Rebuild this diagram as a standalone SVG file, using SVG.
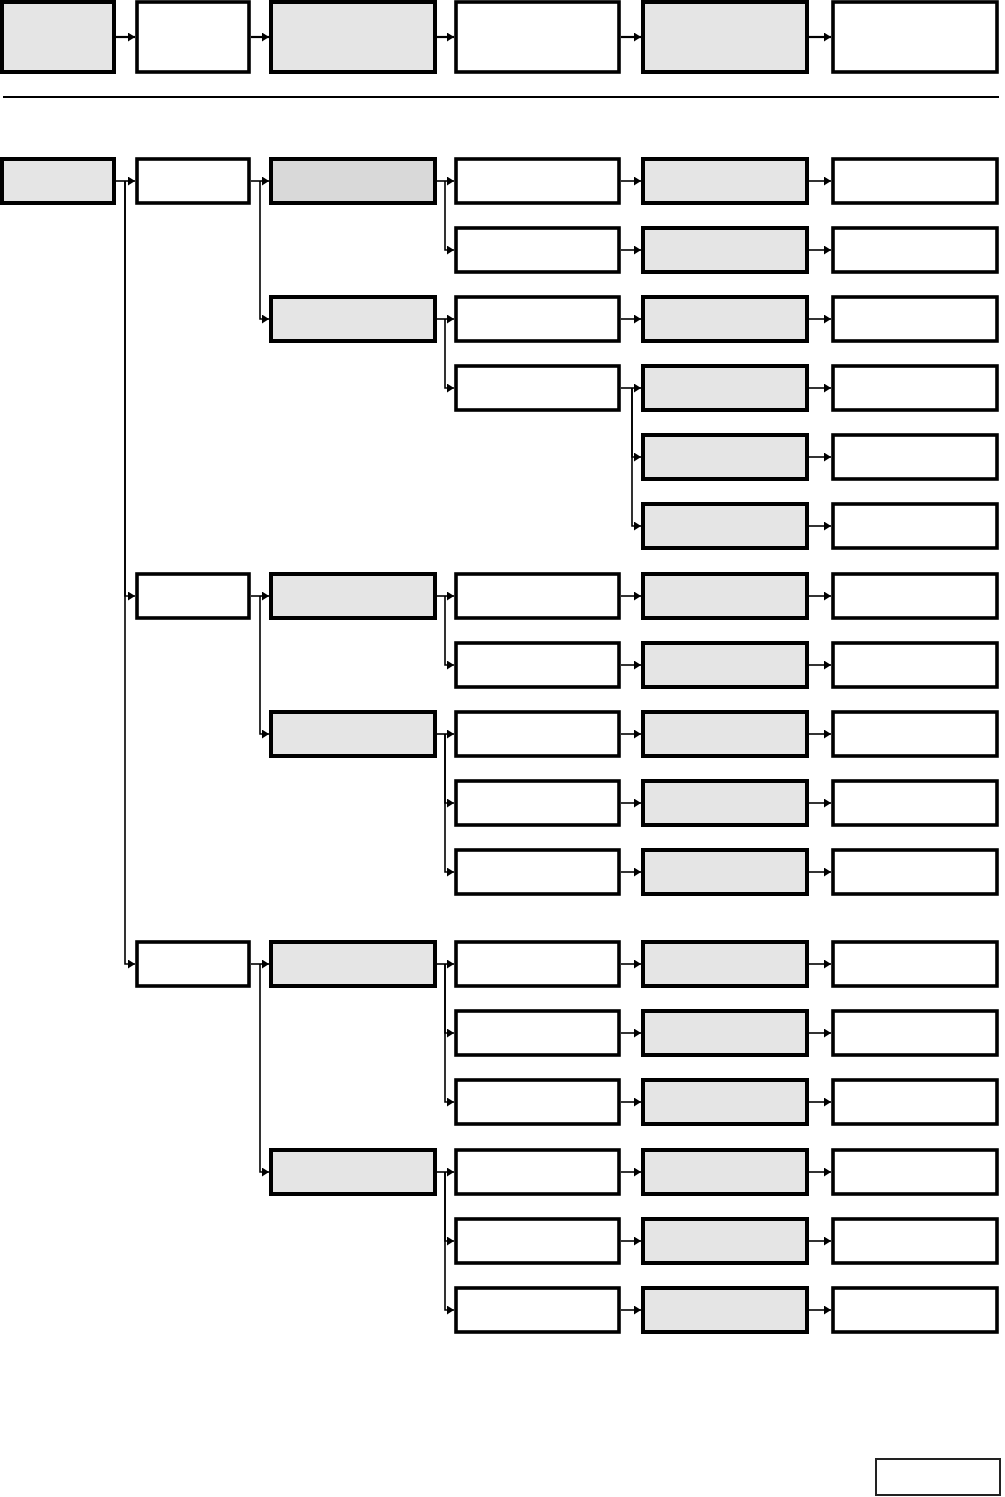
<svg xmlns="http://www.w3.org/2000/svg" width="1005" height="1497" viewBox="0 0 1005 1497">
<style>
.g{fill:#e5e5e5;stroke:#000;stroke-width:4}
.d{fill:#d9d9d9;stroke:#000;stroke-width:4}
.w{fill:#fff;stroke:#000;stroke-width:3.6}
.c{fill:none;stroke:#000;stroke-width:1.6;marker-end:url(#ah)}
.ct{fill:none;stroke:#000;stroke-width:2.2;marker-end:url(#ah)}
</style>
<defs>
<marker id="ah" markerUnits="userSpaceOnUse" markerWidth="7" markerHeight="9" refX="7" refY="4.5" orient="auto">
<path d="M0,0 L7,4.5 L0,9 z" fill="#000"/>
</marker>
</defs>
<rect width="1005" height="1497" fill="#fff"/>
<g id="top-row">
<rect id="t1" class="g" x="2" y="2" width="112" height="70"/>
<rect id="t2" class="w" x="137" y="2" width="112" height="70"/>
<rect id="t3" class="g" x="271" y="2" width="164" height="70"/>
<rect id="t4" class="w" x="456" y="2" width="163" height="70"/>
<rect id="t5" class="g" x="643" y="2" width="164" height="70"/>
<rect id="t6" class="w" x="833" y="2" width="164" height="70"/>
</g>
<line x1="3" y1="97" x2="999" y2="97" stroke="#000" stroke-width="2.2"/>
<g id="nodes">
<rect id="n1-1" class="g" x="2" y="159" width="112" height="44"/>
<rect id="n2-1" class="w" x="137" y="159" width="112" height="44"/>
<rect id="n2-7" class="w" x="137" y="574" width="112" height="44"/>
<rect id="n2-12" class="w" x="137" y="942" width="112" height="44"/>
<rect id="n3-1" class="d" x="271" y="159" width="164" height="44"/>
<rect id="n3-3" class="g" x="271" y="297" width="164" height="44"/>
<rect id="n3-7" class="g" x="271" y="574" width="164" height="44"/>
<rect id="n3-9" class="g" x="271" y="712" width="164" height="44"/>
<rect id="n3-12" class="g" x="271" y="942" width="164" height="44"/>
<rect id="n3-15" class="g" x="271" y="1150" width="164" height="44"/>
<g id="col4">
<rect class="w" x="456" y="159" width="163" height="44"/>
<rect class="w" x="456" y="228" width="163" height="44"/>
<rect class="w" x="456" y="297" width="163" height="44"/>
<rect class="w" x="456" y="366" width="163" height="44"/>
<rect class="w" x="456" y="574" width="163" height="44"/>
<rect class="w" x="456" y="643" width="163" height="44"/>
<rect class="w" x="456" y="712" width="163" height="44"/>
<rect class="w" x="456" y="781" width="163" height="44"/>
<rect class="w" x="456" y="850" width="163" height="44"/>
<rect class="w" x="456" y="942" width="163" height="44"/>
<rect class="w" x="456" y="1011" width="163" height="44"/>
<rect class="w" x="456" y="1080" width="163" height="44"/>
<rect class="w" x="456" y="1150" width="163" height="44"/>
<rect class="w" x="456" y="1219" width="163" height="44"/>
<rect class="w" x="456" y="1288" width="163" height="44"/>
</g>
<g id="col5">
<rect class="g" x="643" y="159" width="164" height="44"/>
<rect class="g" x="643" y="228" width="164" height="44"/>
<rect class="g" x="643" y="297" width="164" height="44"/>
<rect class="g" x="643" y="366" width="164" height="44"/>
<rect class="g" x="643" y="435" width="164" height="44"/>
<rect class="g" x="643" y="504" width="164" height="44"/>
<rect class="g" x="643" y="574" width="164" height="44"/>
<rect class="g" x="643" y="643" width="164" height="44"/>
<rect class="g" x="643" y="712" width="164" height="44"/>
<rect class="g" x="643" y="781" width="164" height="44"/>
<rect class="g" x="643" y="850" width="164" height="44"/>
<rect class="g" x="643" y="942" width="164" height="44"/>
<rect class="g" x="643" y="1011" width="164" height="44"/>
<rect class="g" x="643" y="1080" width="164" height="44"/>
<rect class="g" x="643" y="1150" width="164" height="44"/>
<rect class="g" x="643" y="1219" width="164" height="44"/>
<rect class="g" x="643" y="1288" width="164" height="44"/>
</g>
<g id="col6">
<rect class="w" x="833" y="159" width="164" height="44"/>
<rect class="w" x="833" y="228" width="164" height="44"/>
<rect class="w" x="833" y="297" width="164" height="44"/>
<rect class="w" x="833" y="366" width="164" height="44"/>
<rect class="w" x="833" y="435" width="164" height="44"/>
<rect class="w" x="833" y="504" width="164" height="44"/>
<rect class="w" x="833" y="574" width="164" height="44"/>
<rect class="w" x="833" y="643" width="164" height="44"/>
<rect class="w" x="833" y="712" width="164" height="44"/>
<rect class="w" x="833" y="781" width="164" height="44"/>
<rect class="w" x="833" y="850" width="164" height="44"/>
<rect class="w" x="833" y="942" width="164" height="44"/>
<rect class="w" x="833" y="1011" width="164" height="44"/>
<rect class="w" x="833" y="1080" width="164" height="44"/>
<rect class="w" x="833" y="1150" width="164" height="44"/>
<rect class="w" x="833" y="1219" width="164" height="44"/>
<rect class="w" x="833" y="1288" width="164" height="44"/>
</g>
<rect id="corner-box" x="876" y="1459" width="124" height="36" fill="#fff" stroke="#222" stroke-width="2"/>
</g>
<g id="connectors">
<path class="ct" d="M116,37 H135"/>
<path class="ct" d="M251,37 H269"/>
<path class="ct" d="M437,37 H454"/>
<path class="ct" d="M621,37 H641"/>
<path class="ct" d="M809,37 H831"/>
<path class="c" d="M116,181 H135"/>
<path class="c" d="M125,181 V596 H135"/>
<path class="c" d="M125,181 V964 H135"/>
<path class="c" d="M251,181 H269"/>
<path class="c" d="M260,181 V319 H269"/>
<path class="c" d="M251,596 H269"/>
<path class="c" d="M260,596 V734 H269"/>
<path class="c" d="M251,964 H269"/>
<path class="c" d="M260,964 V1172 H269"/>
<path class="c" d="M437,181 H454"/>
<path class="c" d="M445,181 V250 H454"/>
<path class="c" d="M437,319 H454"/>
<path class="c" d="M445,319 V388 H454"/>
<path class="c" d="M437,596 H454"/>
<path class="c" d="M445,596 V665 H454"/>
<path class="c" d="M437,734 H454"/>
<path class="c" d="M445,734 V803 H454"/>
<path class="c" d="M445,734 V872 H454"/>
<path class="c" d="M437,964 H454"/>
<path class="c" d="M445,964 V1033 H454"/>
<path class="c" d="M445,964 V1102 H454"/>
<path class="c" d="M437,1172 H454"/>
<path class="c" d="M445,1172 V1241 H454"/>
<path class="c" d="M445,1172 V1310 H454"/>
<path class="c" d="M621,181 H641"/>
<path class="c" d="M621,250 H641"/>
<path class="c" d="M621,319 H641"/>
<path class="c" d="M621,388 H641"/>
<path class="c" d="M632,388 V457 H641"/>
<path class="c" d="M632,388 V526 H641"/>
<path class="c" d="M621,596 H641"/>
<path class="c" d="M621,665 H641"/>
<path class="c" d="M621,734 H641"/>
<path class="c" d="M621,803 H641"/>
<path class="c" d="M621,872 H641"/>
<path class="c" d="M621,964 H641"/>
<path class="c" d="M621,1033 H641"/>
<path class="c" d="M621,1102 H641"/>
<path class="c" d="M621,1172 H641"/>
<path class="c" d="M621,1241 H641"/>
<path class="c" d="M621,1310 H641"/>
<path class="c" d="M809,181 H831"/>
<path class="c" d="M809,250 H831"/>
<path class="c" d="M809,319 H831"/>
<path class="c" d="M809,388 H831"/>
<path class="c" d="M809,457 H831"/>
<path class="c" d="M809,526 H831"/>
<path class="c" d="M809,596 H831"/>
<path class="c" d="M809,665 H831"/>
<path class="c" d="M809,734 H831"/>
<path class="c" d="M809,803 H831"/>
<path class="c" d="M809,872 H831"/>
<path class="c" d="M809,964 H831"/>
<path class="c" d="M809,1033 H831"/>
<path class="c" d="M809,1102 H831"/>
<path class="c" d="M809,1172 H831"/>
<path class="c" d="M809,1241 H831"/>
<path class="c" d="M809,1310 H831"/>
</g>
</svg>
